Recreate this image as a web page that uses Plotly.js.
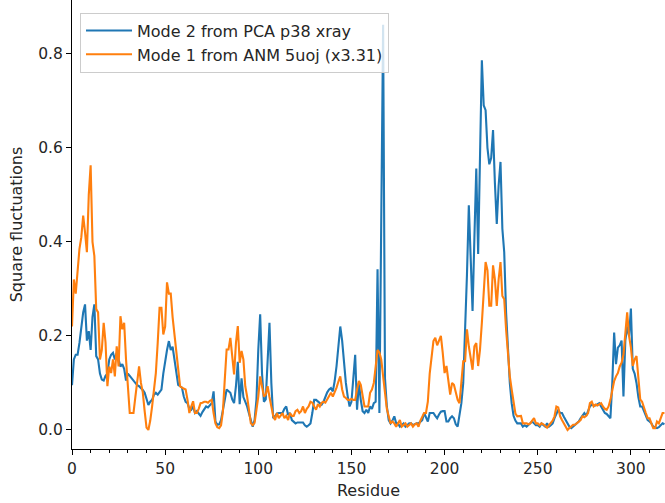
<!DOCTYPE html>
<html>
<head>
<meta charset="utf-8">
<script src="https://cdn.plot.ly/plotly-3.0.1.min.js"></script>
<style>html,body{margin:0;padding:0;background:#fff;}#chart{width:665px;height:503px;}</style>
</head>
<body>
<div id="chart"></div>
<script>
// Square fluctuations per residue (index = residue number)
const pcaMode2 = [
0.095,0.15,0.16,0.16,0.185,0.22,0.25,0.267,0.19,0.21,
0.17,0.24,0.267,0.157,0.15,0.12,0.107,0.105,0.115,0.12,
0.15,0.16,0.164,0.15,0.164,0.15,0.135,0.14,0.13,0.105,
0.12,0.115,0.11,0.105,0.1,0.095,0.093,0.09,0.085,0.079,
0.065,0.053,0.06,0.064,0.075,0.079,0.075,0.08,0.086,0.12,
0.15,0.17,0.189,0.17,0.177,0.15,0.12,0.096,0.093,0.09,
0.071,0.06,0.057,0.045,0.043,0.05,0.036,0.04,0.035,0.03,
0.038,0.043,0.05,0.048,0.052,0.057,0.082,0.018,0.011,0.012,
0.021,0.04,0.064,0.086,0.082,0.079,0.065,0.057,0.093,0.145,
0.055,0.11,0.07,0.06,0.05,0.035,0.02,0.007,0.021,0.064,
0.171,0.246,0.12,0.06,0.065,0.15,0.228,0.1,0.025,0.029,
0.035,0.036,0.036,0.036,0.045,0.05,0.032,0.036,0.021,0.018,
0.014,0.016,0.016,0.016,0.016,0.01,0.007,0.01,0.014,0.036,
0.064,0.064,0.06,0.057,0.054,0.06,0.071,0.08,0.086,0.089,
0.082,0.104,0.136,0.185,0.22,0.19,0.136,0.1,0.071,0.05,
0.06,0.11,0.16,0.043,0.1,0.064,0.04,0.036,0.043,0.036,
0.05,0.045,0.057,0.06,0.342,0.036,0.45,0.862,0.11,0.05,
0.021,0.014,0.02,0.029,0.014,0.014,0.007,0.01,0.014,0.007,
0.01,0.014,0.014,0.01,0.012,0.014,0.014,0.018,0.021,0.036,
0.025,0.018,0.036,0.036,0.036,0.03,0.025,0.033,0.039,0.04,
0.04,0.018,0.018,0.025,0.029,0.025,0.012,0.007,0.036,0.057,
0.1,0.2,0.33,0.478,0.36,0.253,0.41,0.556,0.374,0.6,
0.786,0.69,0.68,0.6,0.565,0.578,0.638,0.525,0.438,0.52,
0.57,0.428,0.378,0.25,0.16,0.1,0.057,0.03,0.02,0.014,
0.014,0.014,0.007,0.01,0.007,0.01,0.014,0.018,0.014,0.01,
0.01,0.007,0.014,0.01,0.007,0.014,0.007,0.01,0.014,0.025,
0.036,0.043,0.036,0.036,0.028,0.021,0.011,0.007,0.004,0.008,
0.011,0.014,0.018,0.025,0.03,0.036,0.03,0.04,0.05,0.054,
0.052,0.052,0.054,0.057,0.05,0.043,0.036,0.034,0.03,0.025,
0.1,0.207,0.14,0.175,0.18,0.19,0.071,0.19,0.22,0.2,
0.258,0.13,0.12,0.1,0.07,0.05,0.05,0.04,0.03,0.021,
0.018,0.014,0.007,0.005,0.004,0.006,0.01,0.014,0.012
];
const anmMode1 = [
0.22,0.32,0.29,0.34,0.385,0.41,0.456,0.42,0.378,0.5,
0.563,0.4,0.37,0.257,0.25,0.15,0.17,0.228,0.186,0.093,
0.135,0.121,0.15,0.114,0.178,0.135,0.242,0.214,0.228,0.15,
0.093,0.036,0.036,0.036,0.07,0.11,0.135,0.1,0.08,0.04,
0.005,0.0,0.02,0.05,0.086,0.121,0.185,0.26,0.26,0.203,
0.22,0.314,0.29,0.29,0.24,0.2,0.157,0.12,0.093,0.09,
0.088,0.086,0.064,0.036,0.05,0.061,0.036,0.036,0.045,0.057,
0.058,0.06,0.06,0.058,0.062,0.064,0.036,0.014,0.006,0.004,
0.01,0.039,0.107,0.171,0.171,0.196,0.157,0.118,0.185,0.221,
0.143,0.168,0.15,0.093,0.071,0.036,0.014,0.01,0.015,0.043,
0.071,0.114,0.09,0.071,0.075,0.093,0.07,0.05,0.03,0.021,
0.036,0.025,0.03,0.036,0.025,0.03,0.021,0.036,0.03,0.03,
0.04,0.043,0.036,0.04,0.05,0.036,0.045,0.05,0.06,0.058,
0.05,0.043,0.055,0.05,0.058,0.06,0.058,0.065,0.071,0.079,
0.071,0.08,0.09,0.103,0.114,0.086,0.071,0.068,0.064,0.064,
0.066,0.064,0.064,0.086,0.104,0.096,0.071,0.05,0.05,0.05,
0.079,0.086,0.1,0.143,0.17,0.165,0.15,0.114,0.071,0.045,
0.029,0.014,0.018,0.014,0.007,0.014,0.021,0.007,0.01,0.014,
0.007,0.01,0.014,0.007,0.012,0.014,0.007,0.02,0.029,0.036,
0.036,0.06,0.12,0.16,0.189,0.196,0.18,0.19,0.2,0.164,
0.121,0.136,0.107,0.075,0.1,0.096,0.08,0.064,0.057,0.107,
0.146,0.146,0.214,0.178,0.15,0.128,0.178,0.185,0.136,0.171,
0.228,0.307,0.357,0.34,0.264,0.264,0.35,0.32,0.264,0.32,
0.357,0.285,0.278,0.214,0.157,0.114,0.086,0.06,0.035,0.029,
0.029,0.03,0.014,0.014,0.014,0.012,0.014,0.02,0.025,0.014,
0.014,0.01,0.014,0.012,0.008,0.005,0.01,0.014,0.02,0.029,
0.05,0.048,0.029,0.021,0.014,0.01,0.0,0.004,0.007,0.011,
0.011,0.014,0.018,0.021,0.029,0.027,0.03,0.036,0.057,0.06,
0.05,0.054,0.052,0.055,0.057,0.05,0.045,0.043,0.05,0.064,
0.086,0.104,0.114,0.121,0.135,0.143,0.16,0.207,0.25,0.2,
0.175,0.136,0.15,0.157,0.1,0.065,0.06,0.05,0.036,0.025,
0.025,0.014,0.004,0.004,0.018,0.014,0.025,0.036,0.036
];
const seriesNames = ["Mode 2 from PCA p38 xray", "Mode 1 from ANM 5uoj (x3.31)"];
const yTickValues = [0.0, 0.2, 0.4, 0.6, 0.8];
const xTickValues = [0, 50, 100, 150, 200, 250, 300];

const residues = pcaMode2.map((_, i) => i);
const residues2 = anmMode1.map((_, i) => i);

const font = "DejaVu Sans, sans-serif";
const fs = 16;
const traces = [
  {x: residues, y: pcaMode2, type: "scatter", mode: "lines", name: seriesNames[0],
   line: {color: "#1f77b4", width: 2.1}},
  {x: residues2, y: anmMode1, type: "scatter", mode: "lines", name: seriesNames[1],
   line: {color: "#ff7f0e", width: 2.1}}
];
const layout = {
  width: 665, height: 503,
  margin: {l: 72, r: 0, t: 0, b: 54, pad: 0},
  paper_bgcolor: "#ffffff", plot_bgcolor: "#ffffff",
  font: {family: font, size: fs, color: "#262626"},
  showlegend: true,
  legend: {x: 0.0135, y: 0.972, xanchor: "left", yanchor: "top", itemwidth: 46,
    bgcolor: "rgba(255,255,255,0.8)", bordercolor: "#cccccc", borderwidth: 1,
    font: {family: font, size: fs, color: "#262626"}, tracegroupgap: 0},
  xaxis: {
    range: [0, 318.3], tickvals: xTickValues, ticks: "outside", ticklen: 5, tickwidth: 1,
    tickcolor: "#000", showline: true, linecolor: "#000", linewidth: 1, mirror: false,
    showgrid: false, zeroline: false,
    tickfont: {family: font, size: 15.5, color: "#262626"},
    minor: {dtick: 10, ticks: "outside", ticklen: 3, tickwidth: 1, tickcolor: "#000", showgrid: false},
    title: {text: "Residue", font: {family: font, size: fs, color: "#262626"}, standoff: 8}
  },
  yaxis: {
    range: [-0.0405, 0.9144], tickvals: yTickValues, tickformat: ".1f", ticks: "outside",
    ticklen: 5, tickwidth: 1, tickcolor: "#000", showline: true, linecolor: "#000", linewidth: 1,
    mirror: false, showgrid: false, zeroline: false,
    tickfont: {family: font, size: 15.5, color: "#262626"},
    title: {text: "Square fluctuations", font: {family: font, size: fs, color: "#262626"}, standoff: 11}
  }
};
Plotly.newPlot("chart", traces, layout, {displayModeBar: false, staticPlot: true});
</script>
</body>
</html>
